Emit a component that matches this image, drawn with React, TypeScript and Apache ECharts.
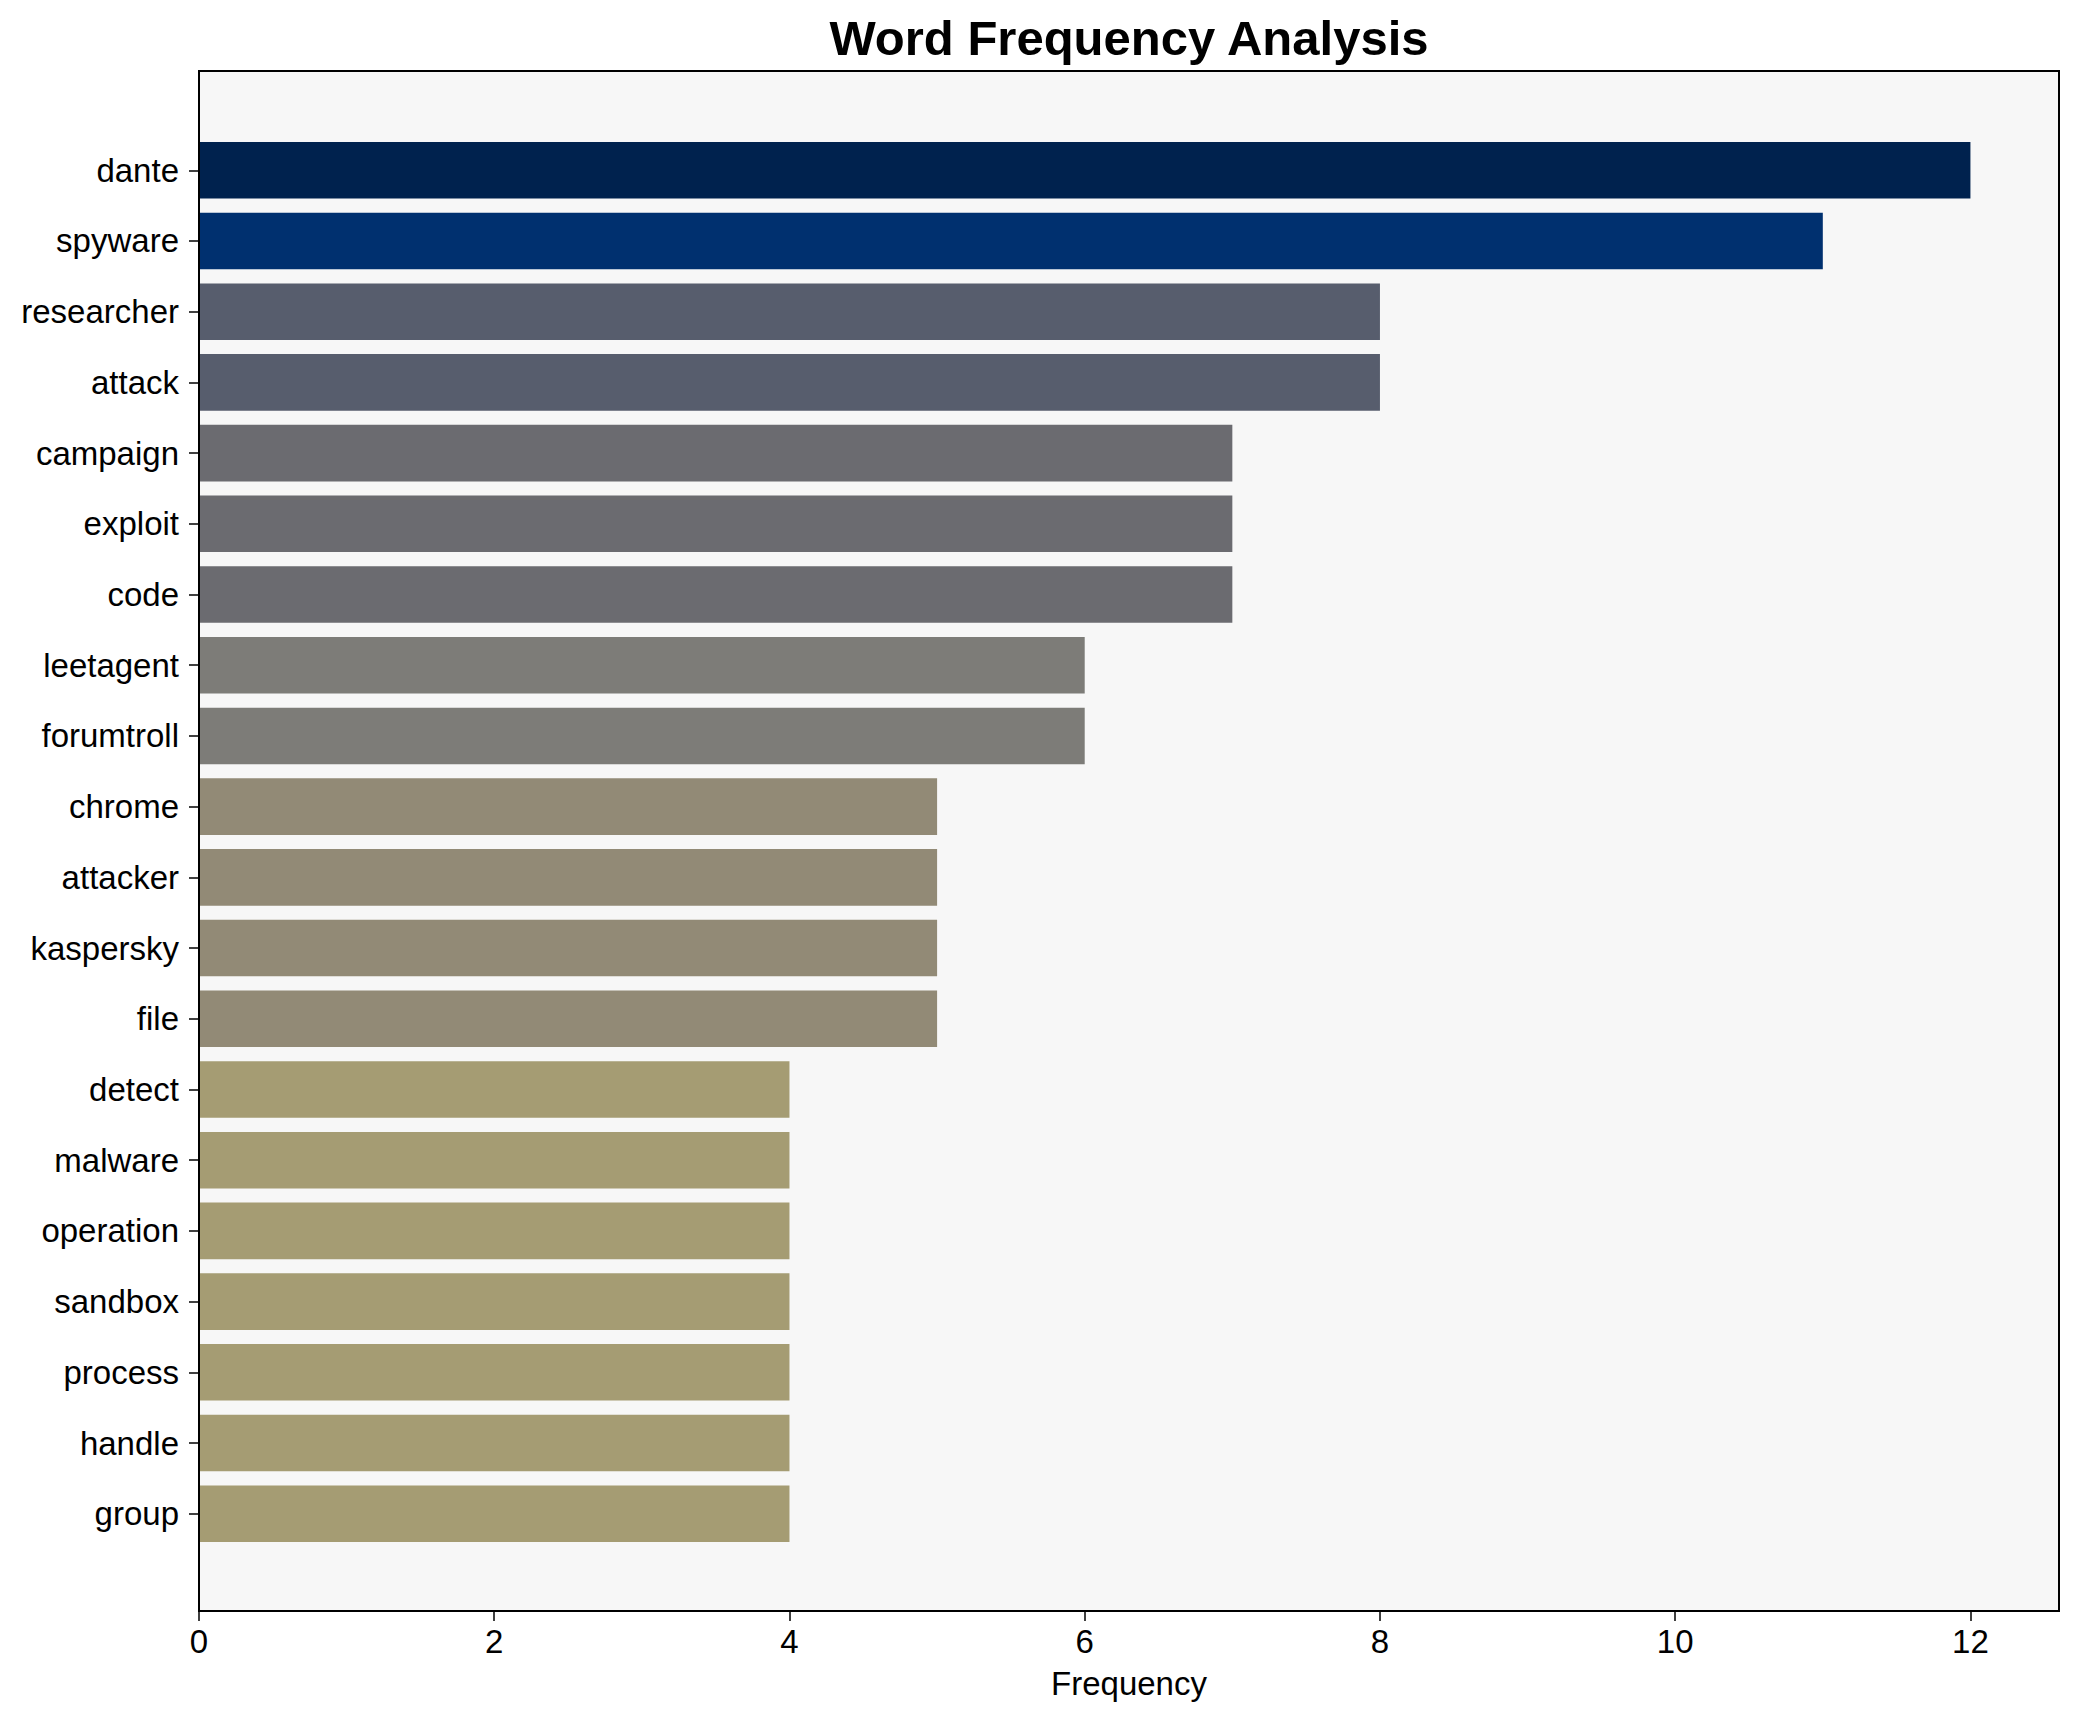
import React, { useEffect, useRef } from "react";
import * as echarts from "echarts";

const words = [
  "dante", "spyware", "researcher", "attack", "campaign", "exploit", "code",
  "leetagent", "forumtroll", "chrome", "attacker", "kaspersky", "file",
  "detect", "malware", "operation", "sandbox", "process", "handle", "group",
];
const counts = [12, 11, 8, 8, 7, 7, 7, 6, 6, 5, 5, 5, 5, 4, 4, 4, 4, 4, 4, 4];
const barColors = [
  "#00224e", "#00306f", "#575d6d", "#575d6d", "#6b6b70", "#6b6b70", "#6b6b70",
  "#7d7c78", "#7d7c78", "#928a76", "#928a76", "#928a76", "#928a76",
  "#a59c73", "#a59c73", "#a59c73", "#a59c73", "#a59c73", "#a59c73", "#a59c73",
];
const xTicks = [0, 2, 4, 6, 8, 10, 12];
const titleText = "Word Frequency Analysis";
const xLabel = "Frequency";

const FONT = "'Liberation Sans', Arial, sans-serif";

export default function App() {
  const ref = useRef<HTMLDivElement>(null);
  useEffect(() => {
    if (!ref.current) return;
    const chart = echarts.init(ref.current, undefined, { renderer: "svg" });
    const L = 199, R = 2059, T = 71, B = 1611;
    const unit = (B - T) / 21.78;
    const bandTop = T + (1.39 - 0.5) * unit + 1;
    const bandBottom = bandTop + 20 * unit;
    chart.setOption({
      animation: false,
      backgroundColor: "#ffffff",
      textStyle: { fontFamily: FONT },
      grid: {
        left: L,
        right: 2078 - R,
        top: bandTop,
        bottom: 1722 - bandBottom,
        containLabel: false,
      },
      xAxis: {
        type: "value",
        min: 0,
        max: 12.6,
        interval: 2,
        offset: B - bandBottom,
        axisLine: { show: false },
        axisTick: { show: true, length: 10, lineStyle: { color: "#000", width: 1.5 } },
        axisLabel: {
          show: true,
          fontSize: 33,
          color: "#000",
          fontFamily: FONT,
          margin: 14,
          showMaxLabel: false,
          formatter: (v: number) => (xTicks.indexOf(v) >= 0 ? String(v) : ""),
        },
        splitLine: { show: false },
      },
      yAxis: {
        type: "category",
        data: words,
        inverse: true,
        axisLine: { show: false },
        axisTick: { show: true, alignWithLabel: true, length: 10, lineStyle: { color: "#000", width: 1.5 } },
        axisLabel: { fontSize: 33, color: "#000", fontFamily: FONT, margin: 20 },
        splitLine: { show: false },
      },
      graphic: [
        {
          type: "rect",
          z: -10,
          silent: true,
          shape: { x: L, y: T, width: R - L, height: B - T },
          style: { fill: "#f7f7f7", stroke: "none" },
        },
        {
          type: "rect",
          z: 100,
          silent: true,
          shape: { x: L, y: T, width: R - L, height: B - T },
          style: { fill: "none", stroke: "#000", lineWidth: 2 },
        },
        {
          type: "text",
          x: (L + R) / 2,
          y: 38,
          style: {
            text: titleText,
            fontSize: 49,
            fontWeight: "bold",
            fontFamily: FONT,
            fill: "#000",
            textAlign: "center",
            textVerticalAlign: "middle",
          },
        },
        {
          type: "text",
          x: (L + R) / 2,
          y: 1683,
          style: {
            text: xLabel,
            fontSize: 33,
            fontFamily: FONT,
            fill: "#000",
            textAlign: "center",
            textVerticalAlign: "middle",
          },
        },
      ],
      series: [
        {
          type: "bar",
          data: counts.map((v, i) => ({ value: v, itemStyle: { color: barColors[i] } })),
          barWidth: 0.8 * unit,
          z: 2,
        },
      ],
    });
    return () => chart.dispose();
  }, []);
  return (
    <div
      ref={ref}
      style={{ position: "fixed", left: 0, top: 0, width: 2078, height: 1722 }}
    />
  );
}
